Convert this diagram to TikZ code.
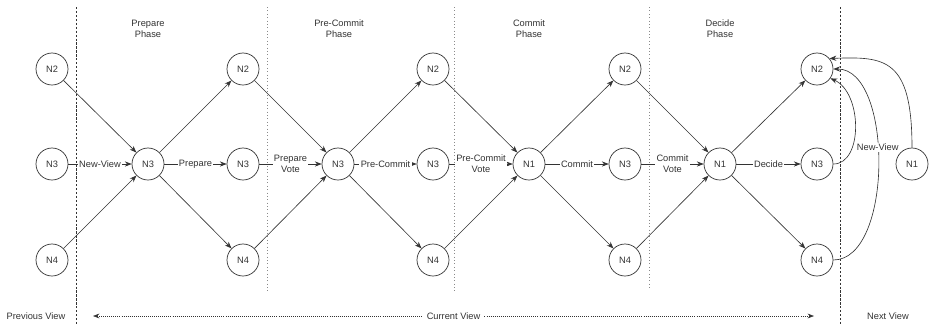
\documentclass[tikz,border=0pt]{standalone}
\usepackage{fontspec}
\setmainfont{Liberation Sans}
\usetikzlibrary{arrows.meta}
\definecolor{ink}{HTML}{333333}
\definecolor{rule}{HTML}{8A8A8A}
\newcommand{\smallsans}{\fontsize{6.6}{7.8}\selectfont}
\tikzset{rep/.style={circle,draw=ink,line width=0.5pt,minimum size=8mm,inner sep=0pt,font=\smallsans,text=ink}, arr/.style={-{Stealth[length=1.7mm,width=1.3mm]},draw=ink,line width=0.45pt}, lbl/.style={fill=white,inner sep=1pt,align=center,font=\smallsans,text=ink}, phase/.style={align=center,font=\smallsans,text=ink}, viewsep/.style={draw=ink,line width=0.45pt,dash pattern=on 1.6pt off 1.2pt}, phasesep/.style={draw=rule,line width=0.4pt,dotted}, viewarr/.style={{Stealth[length=1.6mm,width=1.2mm]}-{Stealth[length=1.6mm,width=1.2mm]},draw=ink,line width=0.45pt,densely dotted}}

\begin{document}
\begin{tikzpicture}[x=0.025cm,y=-0.025cm]
\useasboundingbox (0,0) rectangle (929,324);
\draw[viewsep](76,7)--(76,324);\draw[viewsep](840,7)--(840,324);
\draw[phasesep](267,7)--(267,293);\draw[phasesep](454,7)--(454,293);\draw[phasesep](649,7)--(649,288);
\node[phase](pp) at (148,29){Prepare\\Phase};\node[phase](pc) at (339,29){Pre-Commit\\Phase};
\node[phase](cp) at (529,29){Commit\\Phase};\node[phase](dp) at (720,29){Decide\\Phase};
% replicas, column by column
\node[rep](a2) at (52,69){N2};\node[rep](a3) at (52,164){N3};\node[rep](a4) at (52,260){N4};
\node[rep](b3) at (148,164){N3};
\node[rep](c2) at (243,69){N2};\node[rep](c3) at (243,164){N3};\node[rep](c4) at (243,260){N4};
\node[rep](d3) at (338,164){N3};
\node[rep](e2) at (433,69){N2};\node[rep](e3) at (433,164){N3};\node[rep](e4) at (433,260){N4};
\node[rep](f1) at (529,164){N1};
\node[rep](g2) at (625,69){N2};\node[rep](g3) at (625,164){N3};\node[rep](g4) at (625,260){N4};
\node[rep](h1) at (720,164){N1};
\node[rep](k2) at (817,69){N2};\node[rep](k3) at (817,164){N3};\node[rep](k4) at (817,260){N4};
\node[rep](n1) at (912,164){N1};
% messages
\draw[arr](a2)--(b3);\draw[arr](a3)--node[lbl]{New-View}(b3);\draw[arr](a4)--(b3);
\draw[arr](b3)--(c2);\draw[arr](b3)--node[lbl]{Prepare}(c3);\draw[arr](b3)--(c4);
\draw[arr](c2)--(d3);\draw[arr](c3)--node[lbl]{Prepare\\Vote}(d3);\draw[arr](c4)--(d3);
\draw[arr](d3)--(e2);\draw[arr](d3)--node[lbl]{Pre-Commit}(e3);\draw[arr](d3)--(e4);
\draw[arr](e2)--(f1);\draw[arr](e3)--node[lbl]{Pre-Commit\\Vote}(f1);\draw[arr](e4)--(f1);
\draw[arr](f1)--(g2);\draw[arr](f1)--node[lbl]{Commit}(g3);\draw[arr](f1)--(g4);
\draw[arr](g2)--(h1);\draw[arr](g3)--node[lbl]{Commit\\Vote}(h1);\draw[arr](g4)--(h1);
\draw[arr](h1)--(k2);\draw[arr](h1)--node[lbl]{Decide}(k3);\draw[arr](h1)--(k4);
% next view
\draw[arr](k3.east) .. controls +(30,0) and +(32,14) .. (k2.-35);
\draw[arr](k4.east) .. controls +(60,0) and +(60,0) .. node[lbl,pos=0.56]{New-View} (k2.east);
\draw[arr](n1.north) .. controls +(0,-90) and +(55,-2) .. (k2.40);
% views
\node[phase](pv) at (36,316){Previous View};\node[phase](nv) at (888,316){Next View};
\coordinate (cl) at (93,316);\coordinate (cr) at (814,316);
\draw[viewarr](cl)--node[lbl,fill=white,inner sep=3pt]{Current View}(cr);
\end{tikzpicture}
\end{document}
